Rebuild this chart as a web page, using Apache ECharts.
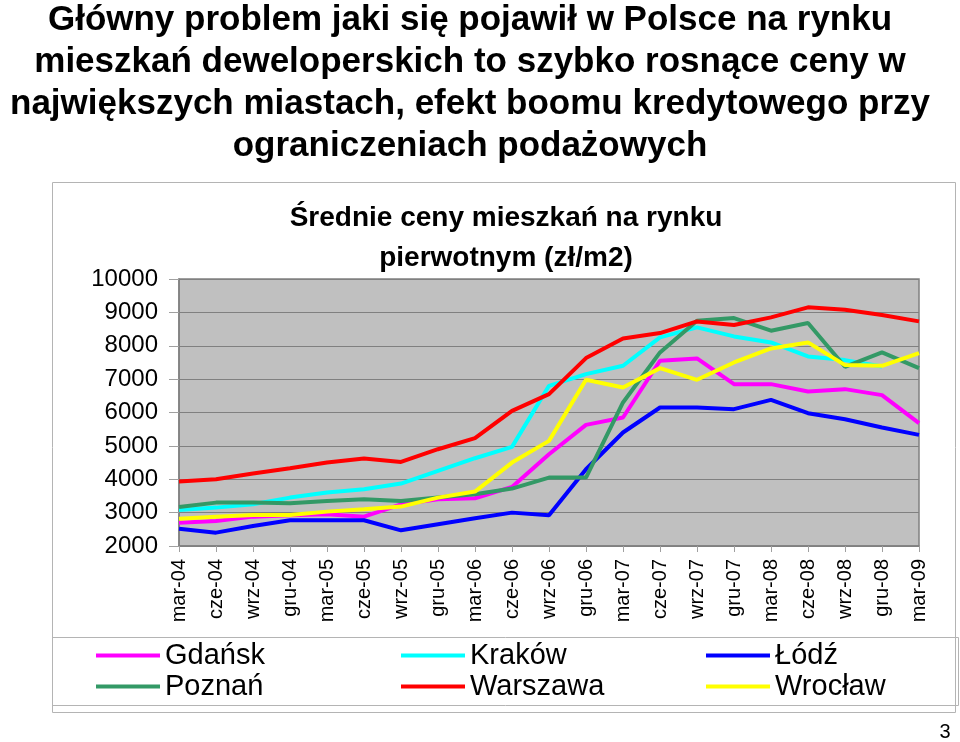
<!DOCTYPE html>
<html lang="pl">

<head>
  <meta charset="utf-8">
  <title>Średnie ceny mieszkań na rynku pierwotnym</title>
  <script src="https://cdn.jsdelivr.net/npm/echarts@6/dist/echarts.min.js"></script>
  <style>
    body {
      margin: 0;
      background: white;
      overflow: hidden;
    }

    main {
      width: 960px;
      height: 742px;
    }
  </style>
</head>

<body>
  <main id="chart"></main>

  <script>
    // --- Data (zł/m2, quarterly).

    const QUARTERS = ['mar-04', 'cze-04', 'wrz-04', 'gru-04', 'mar-05', 'cze-05', 'wrz-05',
      'gru-05', 'mar-06', 'cze-06', 'wrz-06', 'gru-06', 'mar-07', 'cze-07', 'wrz-07',
      'gru-07', 'mar-08', 'cze-08', 'wrz-08', 'gru-08', 'mar-09'];

    const CITIES = ['Gdańsk', 'Kraków', 'Łódź', 'Poznań', 'Warszawa', 'Wrocław'];

    const GDANSK = [2700, 2750, 2880, 2920, 2950, 2880, 3250, 3400, 3430, 3770, 4750,
      5630, 5850, 7550, 7620, 6850, 6850, 6630, 6700, 6520, 5680];
    const KRAKOW = [3080, 3150, 3250, 3450, 3600, 3700, 3870, 4250, 4630, 4970, 6800,
      7150, 7400, 8250, 8550, 8280, 8100, 7680, 7570, 7380, null];
    const LODZ = [2520, 2400, 2600, 2770, 2770, 2770, 2470, 2650, 2830, 3000, 2920,
      4300, 5400, 6150, 6150, 6100, 6380, 5980, 5800, 5550, 5330];
    const POZNAN = [3170, 3300, 3300, 3280, 3350, 3400, 3350, 3450, 3550, 3720, 4050,
      4050, 6300, 7800, 8750, 8830, 8450, 8680, 7370, 7800, 7330];
    const WARSZAWA = [3930, 4000, 4170, 4330, 4500, 4620, 4520, 4900, 5230, 6050, 6550,
      7630, 8220, 8380, 8730, 8620, 8850, 9150, 9080, 8920, 8730];
    const WROCLAW = [2820, 2880, 2930, 2930, 3030, 3100, 3180, 3450, 3630, 4500, 5150,
      6980, 6750, 7330, 6980, 7500, 7920, 8100, 7420, 7400, 7780];

    const SERIES_VALUES = [GDANSK, KRAKOW, LODZ, POZNAN, WARSZAWA, WROCLAW];

    // Excel's default palette colours for the six lines.
    const COLORS = ['#ff00ff', '#00ffff', '#0000ff', '#339966', '#ff0000', '#ffff00'];

    const FONT = '"Liberation Sans", Arial, sans-serif';

    const HEADLINE = 'Główny problem jaki się pojawił w Polsce na rynku\n' +
      'mieszkań deweloperskich to szybko rosnące ceny w\n' +
      'największych miastach, efekt boomu kredytowego przy\n' +
      'ograniczeniach podażowych';

    // --- Chart.

    function makeOptions() {
      return {
        animation: false,
        textStyle: { fontFamily: FONT, color: '#000' },

        // Frame of the chart object and of its legend, plus the texts.
        graphic: [
          {
            type: 'text',
            x: 470,
            y: -1,
            style: {
              text: HEADLINE,
              font: 'bold 35px ' + FONT,
              lineHeight: 42,
              align: 'center',
              fill: '#000'
            }
          },
          {
            type: 'rect',
            shape: { x: 52.5, y: 182.5, width: 903, height: 530 },
            style: { fill: 'none', stroke: '#b4b4b4', lineWidth: 1 }
          },
          {
            type: 'rect',
            shape: { x: 52.5, y: 637.5, width: 906, height: 68 },
            style: { fill: 'none', stroke: '#b4b4b4', lineWidth: 1 }
          },
          {
            type: 'text',
            x: 506,
            y: 198,
            style: {
              text: 'Średnie ceny mieszkań na rynku\npierwotnym (zł/m2)',
              font: 'bold 28px ' + FONT,
              lineHeight: 40,
              align: 'center',
              fill: '#000'
            }
          },
          {
            type: 'text',
            x: 945,
            y: 722,
            style: {
              text: '3',
              font: '20px ' + FONT,
              align: 'center',
              fill: '#000'
            }
          }
        ],

        legend: {
          data: CITIES,
          left: 91,
          top: 636,
          width: 915,
          icon: 'rect',
          itemWidth: 64,
          itemHeight: 4,
          itemGap: 2,
          selectedMode: false,
          textStyle: {
            fontFamily: FONT,
            fontSize: 29,
            lineHeight: 26,
            width: 234,
            color: '#000'
          }
        },

        grid: {
          left: 179,
          right: 41,
          top: 279,
          bottom: 196,
          show: true,
          backgroundColor: '#c0c0c0',
          borderColor: '#808080',
          borderWidth: 1.5
        },

        xAxis: {
          type: 'category',
          data: QUARTERS,
          boundaryGap: false,
          axisLine: { lineStyle: { color: '#808080', width: 1.5 } },
          axisTick: { show: true, length: 6, interval: 0, lineStyle: { color: '#a0a0a0' } },
          axisLabel: {
            interval: 0,
            rotate: 90,
            margin: 13,
            fontSize: 20,
            color: '#000',
            fontFamily: FONT
          }
        },

        yAxis: {
          type: 'value',
          min: 2000,
          max: 10000,
          interval: 1000,
          axisLine: { show: true, lineStyle: { color: '#808080', width: 1.5 } },
          axisTick: { show: true, length: 10, lineStyle: { color: '#a0a0a0' } },
          axisLabel: {
            margin: 21,
            fontSize: 24,
            color: '#000',
            fontFamily: FONT,
            formatter: v => String(v)
          },
          splitLine: { lineStyle: { color: '#808080', width: 1.2 } }
        },

        series: CITIES.map((name, i) => ({
          name: name,
          type: 'line',
          data: SERIES_VALUES[i],
          symbol: 'none',
          color: COLORS[i],
          lineStyle: { width: 4, color: COLORS[i] }
        }))
      };
    }

    const instance = echarts.init(document.getElementById('chart'));
    instance.setOption(makeOptions());
  </script>
</body>

</html>
